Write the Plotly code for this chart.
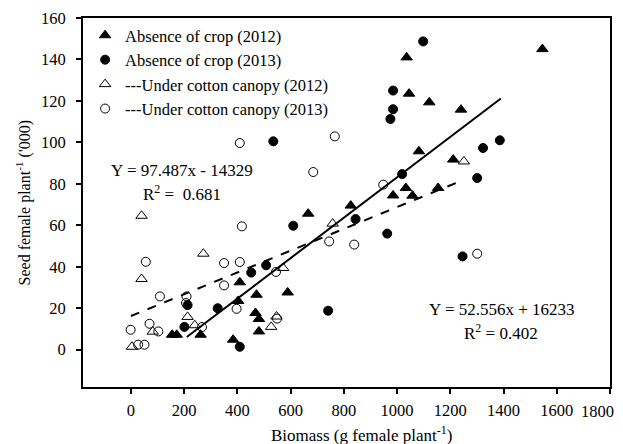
import numpy as np
import plotly.graph_objects as go

# Biomass (g female plant^-1) and seed production ('000 seeds female plant^-1)
absence_2012_x = [1546, 1036, 1045, 1121, 1240, 1082, 1211, 985, 1058, 1154, 1033, 826,
                  666, 589, 409, 403, 472, 468, 481, 481, 155, 172, 262, 384]
absence_2012_y = [145, 141, 123.5, 119.3, 115.8, 95.7, 91.7, 74.4, 74.3, 78, 78, 69.5,
                  65.6, 27.6, 32.5, 23.5, 26.5, 17.7, 14.8, 8.8, 7.2, 7.2, 7.2, 4.8]

absence_2013_x = [1098, 985, 985, 975, 1323, 1386, 1019, 1301, 844, 963, 1246, 610,
                  741, 508, 452, 326, 213, 201, 409, 535]
absence_2013_y = [148.7, 125, 116, 111.3, 97.3, 101, 84.7, 82.8, 63, 56, 45, 59.8,
                  18.8, 40.7, 37.2, 20, 21.5, 11, 1.4, 100.5]

canopy_2012_x = [40, 272, 40, 572, 758, 1251, 213, 240, 547, 527, 4, 82]
canopy_2012_y = [64.6, 46.3, 34.1, 39.4, 60.8, 90.8, 15.8, 11.8, 16, 11, 1.4, 8.7]

canopy_2013_x = [409, 766, 685, 948, 745, 839, 1301, 545, 56, 350, 409, 417, 350,
                 109, 209, 207, 397, -1, 70, 103, 267, 27, 51, 549]
canopy_2013_y = [99.7, 102.9, 85.7, 79.6, 52.2, 50.7, 46.3, 37.5, 42.4, 41.8, 42.3, 59.5, 31,
                 25.7, 25.7, 22.5, 19.7, 9.6, 12.5, 8.8, 10.9, 2.4, 2.4, 15]

# Fitted regressions (seeds vs g); plotted in thousands
absence_fit = {"slope": 97.487, "intercept": -14329, "r2": 0.681, "x_range": [210, 1390]}
canopy_fit = {"slope": 52.556, "intercept": 16233, "r2": 0.402, "x_range": [0, 1250]}

x_ticks = list(range(0, 1801, 200))
y_ticks = list(range(0, 161, 20))

x_title = "Biomass (g female plant<sup>-1</sup>)"
y_title = "Seed female plant<sup>-1</sup> ('000)"

FONT = "Liberation Serif, Times New Roman, serif"
FS = 16.5

fig = go.Figure()

series = [
    ("Absence of crop (2012)", absence_2012_x, absence_2012_y, "triangle-up", 10),
    ("Absence of crop (2013)", absence_2013_x, absence_2013_y, "circle", 9),
    ("---Under cotton canopy (2012)", canopy_2012_x, canopy_2012_y, "triangle-up-open", 10),
    ("---Under cotton canopy (2013)", canopy_2013_x, canopy_2013_y, "circle-open", 9),
]
for name, xs, ys, sym, size in series:
    fig.add_trace(go.Scatter(
        x=xs, y=ys, mode="markers", name=name,
        marker=dict(symbol=sym, size=size, color="black", line=dict(color="black", width=1)),
    ))

for fit, dash in [(absence_fit, "solid"), (canopy_fit, "dash")]:
    xs = np.array(fit["x_range"], dtype=float)
    ys = (fit["slope"] * xs + fit["intercept"]) / 1000.0
    fig.add_trace(go.Scatter(
        x=xs, y=ys, mode="lines", showlegend=False,
        line=dict(color="black", width=2, dash=dash),
    ))


def fmt_eq(fit):
    sign = "-" if fit["intercept"] < 0 else "+"
    return f"Y = {fit['slope']:.3f}x {sign} {abs(fit['intercept'])}"


def note(x, y, text, size=17, angle=0):
    fig.add_annotation(x=x, y=y, xref="paper", yref="paper", xanchor="center",
                       yanchor="middle", showarrow=False, text=text, textangle=angle,
                       font=dict(family=FONT, size=size, color="black"))


note(0.188, 0.588, fmt_eq(absence_fit))
note(0.187, 0.525, f"R<sup>2</sup> =  {absence_fit['r2']:.3f}")
note(0.795, 0.209, fmt_eq(canopy_fit))
note(0.794, 0.150, f"R<sup>2</sup> = {canopy_fit['r2']:.3f}")

# axis titles
note(0.529, -0.127, x_title, size=17)
note(-0.112, 0.50, y_title, size=16, angle=-90)

axis_common = dict(
    showline=True, linecolor="black", linewidth=2, mirror=True,
    ticks="outside", ticklen=5, tickwidth=2, tickcolor="black",
    showgrid=False, zeroline=False, automargin=False,
    tickfont=dict(family=FONT, size=FS, color="black"),
)

# the last x label sits at the page edge, so it is drawn separately, shifted left
x_ticktext = [str(v) for v in x_ticks]
last_label = x_ticktext[-1]
x_ticktext[-1] = ""

fig.update_xaxes(
    range=[-180, 1800], tickvals=x_ticks, ticktext=x_ticktext,
    ticklabelstandoff=2,
    **axis_common,
)
fig.update_yaxes(
    range=[-18, 160], tickvals=y_ticks, ticktext=[str(v) for v in y_ticks],
    ticklabelstandoff=7,
    **axis_common,
)

fig.add_annotation(x=x_ticks[-1], y=0, xref="x", yref="paper", xanchor="center",
                   yanchor="top", yshift=-13, xshift=-13, showarrow=False,
                   text=last_label, font=dict(family=FONT, size=FS, color="black"))

fig.update_layout(
    width=623, height=444,
    margin=dict(l=83, r=13, t=18, b=57),
    paper_bgcolor="white", plot_bgcolor="white",
    font=dict(family=FONT, size=FS, color="black"),
    showlegend=True,
    legend=dict(x=0.004, y=1.0, xanchor="left", yanchor="top",
                bgcolor="rgba(0,0,0,0)", borderwidth=0,
                font=dict(family=FONT, size=FS, color="black"),
                itemwidth=30, tracegroupgap=0),
)

fig.write_html("out.html")
